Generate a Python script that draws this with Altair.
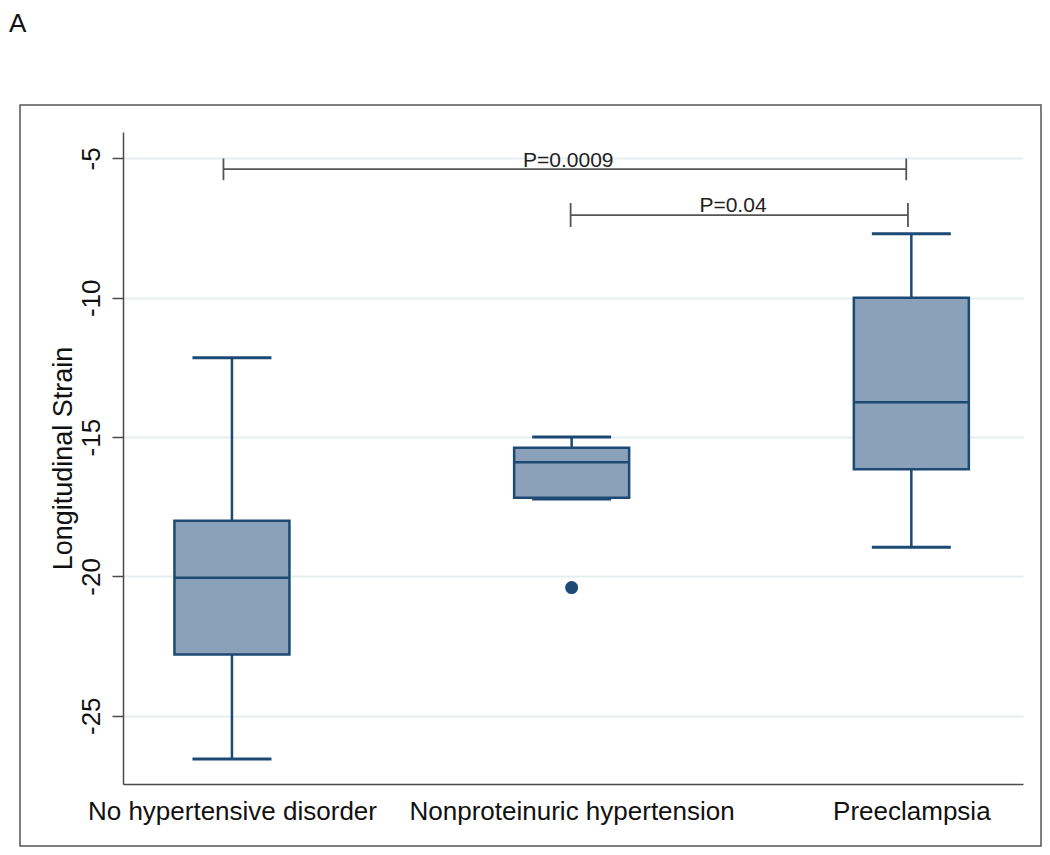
import altair as alt
import pandas as pd

# ---- data ----
groups = ["No hypertensive disorder", "Nonproteinuric hypertension", "Preeclampsia"]
positions = [1, 2, 3]
whisker_low = [-26.55, -17.22, -18.95]
q1 = [-22.8, -17.18, -16.15]
median = [-20.05, -15.9, -13.75]
q3 = [-18.0, -15.38, -10.0]
whisker_high = [-12.15, -15.0, -7.7]

outlier_pos = [2]
outlier_value = [-20.4]

bracket_start = [0.975, 1.997]
bracket_end = [2.985, 2.99]
bracket_y = [-5.38, -7.03]
bracket_tick_top = [-5.0, -6.6]
bracket_tick_bottom = [-5.78, -7.46]
p_labels = ["P=0.0009", "P=0.04"]
p_label_x = [1.99, 2.475]
p_label_y = [-5.31, -6.93]

y_ticks = [-5, -10, -15, -20, -25]

# ---- styles ----
FONT = "Liberation Sans"
BOX_FILL = "#8aa1b9"
BOX_STROKE = "#1c4a74"
GRID = "#e7eef0"
AXIS = "#4a4a4a"

boxes = pd.DataFrame({
    "group": groups, "pos": positions, "lo": whisker_low, "q1": q1,
    "med": median, "q3": q3, "hi": whisker_high,
})
outliers = pd.DataFrame({"pos": outlier_pos, "val": outlier_value})
brackets = pd.DataFrame({
    "x1": bracket_start, "x2": bracket_end, "y": bracket_y,
    "t1": bracket_tick_top, "t2": bracket_tick_bottom,
    "label": p_labels, "lx": p_label_x, "ly": p_label_y,
})
one = pd.DataFrame({"k": [0]})

label_expr = " : ".join(
    f"datum.value == {p} ? '{g}'" for p, g in zip(positions[:-1], groups[:-1])
) + f" : '{groups[-1]}'"

xscale = alt.Scale(domain=[0.694, 3.314], nice=False, zero=False)
yscale = alt.Scale(domain=[-27.45, -4.05], nice=False, zero=False)

xax = alt.Axis(
    values=positions, labelExpr=label_expr, title=None, grid=False, ticks=False,
    domainColor=AXIS, domainWidth=1.5, labelFont=FONT, labelFontSize=26,
    labelColor="#111111", labelPadding=14, labelFlush=False, labelOverlap=False,
    labelLimit=0,
)
yax = alt.Axis(
    values=y_ticks, labelExpr="toString(datum.value)", title="Longitudinal Strain",
    grid=True, gridColor=GRID, gridWidth=2, ticks=True, tickSize=11,
    tickColor=AXIS, tickWidth=1.5, domainColor=AXIS, domainWidth=1.5,
    labelFont=FONT, labelFontSize=26, labelColor="#111111", labelAngle=270,
    labelAlign="center", labelBaseline="middle", labelPadding=21,
    titleFont=FONT, titleFontSize=27, titleFontWeight="normal", titleColor="#111111",
    titlePadding=1,
)

X = alt.X("pos:Q", scale=xscale, axis=xax)
base = alt.Chart(boxes)

whisk_lo = base.mark_rule(color=BOX_STROKE, strokeWidth=2.5).encode(
    x=X, y=alt.Y("lo:Q", scale=yscale, axis=yax), y2="q1:Q")
whisk_hi = base.mark_rule(color=BOX_STROKE, strokeWidth=2.5).encode(
    x="pos:Q", y="q3:Q", y2="hi:Q")
cap_lo = base.mark_tick(orient="horizontal", size=79, thickness=3, color=BOX_STROKE,
                        opacity=1).encode(x="pos:Q", y="lo:Q")
cap_hi = base.mark_tick(orient="horizontal", size=79, thickness=3, color=BOX_STROKE,
                        opacity=1).encode(x="pos:Q", y="hi:Q")
box = base.mark_bar(size=115, fill=BOX_FILL, stroke=BOX_STROKE, strokeWidth=2.5).encode(
    x="pos:Q", y="q1:Q", y2="q3:Q")
med = base.mark_tick(orient="horizontal", size=115, thickness=2.5, color=BOX_STROKE,
                     opacity=1).encode(x="pos:Q", y="med:Q")
out = alt.Chart(outliers).mark_point(filled=True, size=170, color=BOX_STROKE,
                                     opacity=1).encode(x="pos:Q", y="val:Q")

bc = alt.Chart(brackets)
b_line = bc.mark_rule(color="#555555", strokeWidth=1.8).encode(
    x="x1:Q", x2="x2:Q", y="y:Q")
b_left = bc.mark_rule(color="#555555", strokeWidth=1.8).encode(
    x="x1:Q", y="t1:Q", y2="t2:Q")
b_right = bc.mark_rule(color="#555555", strokeWidth=1.8).encode(
    x="x2:Q", y="t1:Q", y2="t2:Q")
b_text = bc.mark_text(font=FONT, fontSize=21, color="#222222", align="center",
                      baseline="alphabetic").encode(x="lx:Q", y="ly:Q", text="label:N")

frame = alt.Chart(one).mark_rect(fill="transparent", stroke="#555555", strokeWidth=1.5).encode(
    x=alt.value(-103), x2=alt.value(918), y=alt.value(-27), y2=alt.value(714))
panel = alt.Chart(one).mark_text(font=FONT, fontSize=26, color="#111111", align="left",
                                 baseline="top", text="A").encode(
    x=alt.value(-114), y=alt.value(-121))

chart = alt.layer(
    whisk_lo, whisk_hi, cap_lo, cap_hi, box, med, out,
    b_line, b_left, b_right, b_text, frame, panel,
).properties(
    width=900, height=652,
    padding={"left": 115, "top": 124, "right": 19, "bottom": 63},
    autosize=alt.AutoSizeParams(type="none"),
).configure_view(stroke="transparent")

chart.save("out.html", embed_options={"renderer": "svg", "actions": False})
